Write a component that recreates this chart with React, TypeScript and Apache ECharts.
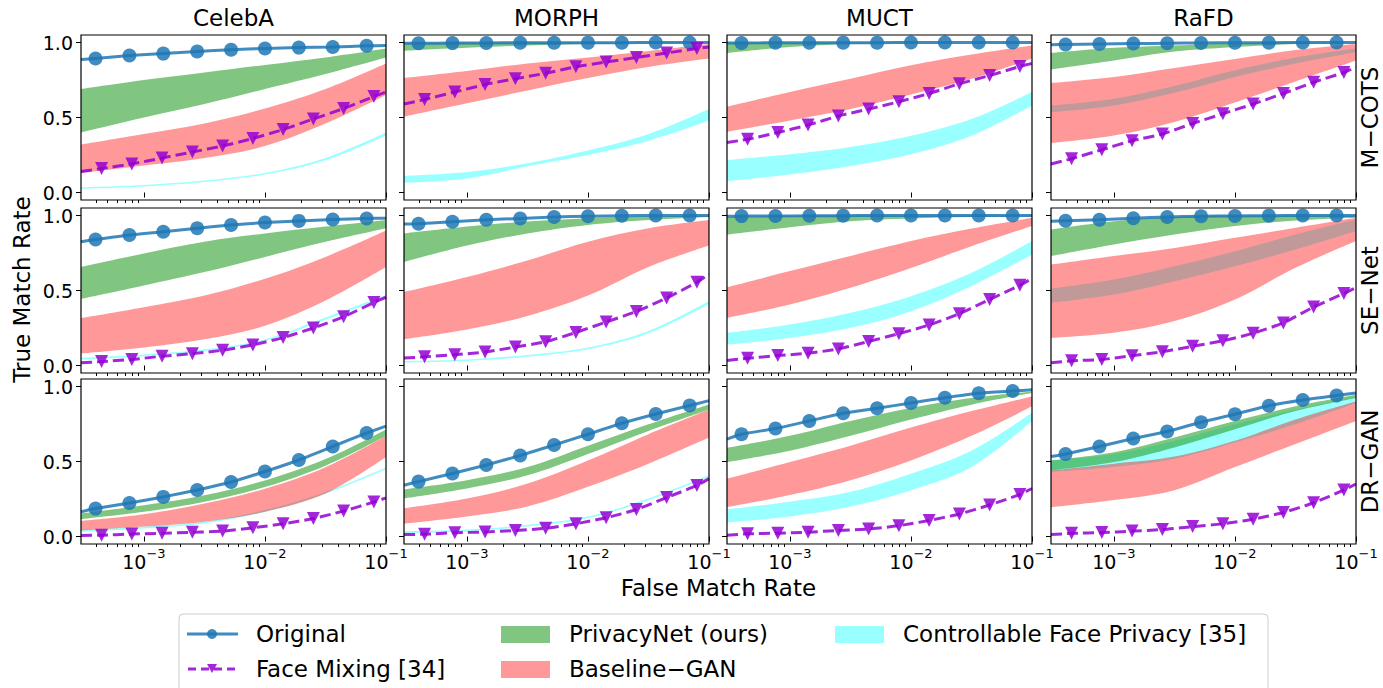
import React, { useEffect, useRef } from 'react';
import * as echarts from 'echarts';

// ---------- categories / axes ----------
const DATASETS = ['CelebA', 'MORPH', 'MUCT', 'RaFD'];
const MATCHERS = ['M−COTS', 'SE−Net', 'DR−GAN'];
const X_LABEL = 'False Match Rate';
const Y_LABEL = 'True Match Rate';
const X_TICKS = [-3, -2, -1]; // log10(FMR)
const Y_TICKS = [0, 0.5, 1.0];
const X_MIN = -3.52;
const X_MAX = -1;
const Y_MIN = -0.05;
const Y_MAX = 1.05;

// sample positions, log10(False Match Rate)
const ORIG_X = [-3.52, -3.4, -3.12, -2.84, -2.56, -2.28, -2.0, -1.72, -1.44, -1.16, -1.0];
const FM_X = [-3.52, -3.35, -3.1, -2.85, -2.6, -2.35, -2.1, -1.85, -1.6, -1.35, -1.1, -1.0];
const BAND_X = [-3.52, -3.0, -2.5, -2.0, -1.5, -1.0];

// ---------- M-COTS row (CelebA, MORPH, MUCT, RaFD) ----------
const ORIGINAL_MCOTS = [
  [0.886, 0.893, 0.913, 0.926, 0.94, 0.952, 0.96, 0.966, 0.97, 0.978, 0.98],
  [0.995, 0.995, 0.996, 0.997, 0.998, 0.998, 0.999, 0.999, 1, 1, 1],
  [0.997, 0.997, 0.998, 0.998, 0.999, 0.999, 1, 1, 1, 1, 1],
  [0.985, 0.987, 0.99, 0.993, 0.995, 0.997, 0.998, 0.999, 1, 1, 1],
];
const FACEMIX_MCOTS = [
  [0.14, 0.16, 0.19, 0.23, 0.27, 0.31, 0.36, 0.42, 0.49, 0.56, 0.64, 0.67],
  [0.59, 0.62, 0.67, 0.72, 0.758, 0.795, 0.838, 0.87, 0.9, 0.93, 0.96, 0.97],
  [0.333, 0.355, 0.4, 0.45, 0.51, 0.556, 0.605, 0.66, 0.725, 0.78, 0.84, 0.86],
  [0.19, 0.225, 0.285, 0.345, 0.39, 0.46, 0.525, 0.59, 0.66, 0.735, 0.8, 0.837],
];
const PRIVNET_LO_MCOTS = [
  [0.4, 0.5, 0.59, 0.69, 0.79, 0.9],
  [0.945, 0.965, 0.98, 0.99, 0.995, 0.998],
  [0.93, 0.97, 0.99, 0.997, 1, 1],
  [0.82, 0.88, 0.94, 0.97, 0.99, 1],
];
const PRIVNET_HI_MCOTS = [
  [0.69, 0.75, 0.8, 0.85, 0.9, 0.96],
  [0.995, 0.998, 1, 1, 1, 1],
  [0.997, 1, 1, 1, 1, 1],
  [0.93, 0.965, 0.98, 0.995, 1, 1],
];
const BASEGAN_LO_MCOTS = [
  [0.13, 0.18, 0.23, 0.31, 0.46, 0.65],
  [0.506, 0.595, 0.68, 0.763, 0.837, 0.893],
  [0.405, 0.48, 0.557, 0.653, 0.758, 0.893],
  [0.33, 0.38, 0.47, 0.6, 0.74, 0.88],
];
const BASEGAN_HI_MCOTS = [
  [0.32, 0.39, 0.46, 0.56, 0.69, 0.86],
  [0.763, 0.81, 0.86, 0.9, 0.944, 0.99],
  [0.573, 0.67, 0.758, 0.848, 0.92, 0.98],
  [0.73, 0.77, 0.83, 0.89, 0.95, 0.99],
];
const CFP_LO_MCOTS = [
  [0.025, 0.04, 0.07, 0.12, 0.215, 0.38],
  [0.065, 0.094, 0.175, 0.25, 0.345, 0.48],
  [0.076, 0.12, 0.177, 0.255, 0.378, 0.58],
  [0.535, 0.58, 0.665, 0.77, 0.86, 0.935],
];
const CFP_HI_MCOTS = [
  [0.035, 0.05, 0.08, 0.13, 0.23, 0.4],
  [0.11, 0.136, 0.195, 0.28, 0.39, 0.557],
  [0.215, 0.255, 0.304, 0.378, 0.49, 0.67],
  [0.58, 0.625, 0.71, 0.815, 0.9, 0.96],
];

// ---------- SE-Net row ----------
const ORIGINAL_SENET = [
  [0.825, 0.84, 0.87, 0.892, 0.915, 0.937, 0.953, 0.964, 0.973, 0.98, 0.982],
  [0.944, 0.945, 0.958, 0.972, 0.98, 0.99, 0.995, 0.998, 1, 1, 1],
  [0.995, 0.996, 0.997, 0.998, 0.999, 1, 1, 1, 1, 1, 1],
  [0.962, 0.965, 0.972, 0.982, 0.99, 0.995, 0.997, 0.999, 1, 1, 1],
];
const FACEMIX_SENET = [
  [0.018, 0.026, 0.04, 0.062, 0.079, 0.102, 0.137, 0.186, 0.25, 0.325, 0.42, 0.455],
  [0.05, 0.058, 0.072, 0.09, 0.123, 0.158, 0.22, 0.29, 0.36, 0.45, 0.555, 0.61],
  [0.033, 0.048, 0.066, 0.082, 0.11, 0.16, 0.212, 0.27, 0.345, 0.44, 0.535, 0.58],
  [0.018, 0.031, 0.04, 0.065, 0.092, 0.128, 0.165, 0.215, 0.284, 0.39, 0.48, 0.52],
];
const PRIVNET_LO_SENET = [
  [0.444, 0.534, 0.623, 0.724, 0.825, 0.915],
  [0.69, 0.8, 0.88, 0.937, 0.97, 0.99],
  [0.873, 0.922, 0.962, 0.98, 0.99, 0.995],
  [0.73, 0.807, 0.873, 0.93, 0.967, 0.985],
];
const PRIVNET_HI_SENET = [
  [0.657, 0.747, 0.825, 0.88, 0.926, 0.97],
  [0.88, 0.926, 0.96, 0.982, 0.993, 1],
  [0.99, 0.998, 1, 1, 1, 1],
  [0.907, 0.962, 0.99, 1, 1, 1],
];
const BASEGAN_LO_SENET = [
  [0.08, 0.12, 0.175, 0.265, 0.433, 0.657],
  [0.175, 0.24, 0.33, 0.466, 0.657, 0.8],
  [0.318, 0.407, 0.518, 0.65, 0.795, 0.93],
  [0.184, 0.218, 0.296, 0.44, 0.651, 0.83],
];
const BASEGAN_HI_SENET = [
  [0.316, 0.388, 0.466, 0.578, 0.724, 0.9],
  [0.49, 0.59, 0.7, 0.825, 0.915, 0.97],
  [0.522, 0.63, 0.73, 0.83, 0.913, 0.985],
  [0.673, 0.73, 0.784, 0.851, 0.918, 0.985],
];
const CFP_LO_SENET = [
  [0.04, 0.062, 0.096, 0.163, 0.305, 0.455],
  [0.02, 0.03, 0.058, 0.108, 0.215, 0.41],
  [0.14, 0.184, 0.251, 0.362, 0.53, 0.74],
  [0.418, 0.473, 0.562, 0.662, 0.773, 0.896],
];
const CFP_HI_SENET = [
  [0.052, 0.074, 0.108, 0.175, 0.32, 0.47],
  [0.03, 0.04, 0.07, 0.12, 0.23, 0.43],
  [0.218, 0.273, 0.351, 0.462, 0.618, 0.83],
  [0.513, 0.573, 0.662, 0.762, 0.873, 0.973],
];

// ---------- DR-GAN row ----------
const ORIGINAL_DRGAN = [
  [0.165, 0.186, 0.223, 0.264, 0.31, 0.363, 0.433, 0.51, 0.6, 0.69, 0.736],
  [0.342, 0.366, 0.42, 0.477, 0.54, 0.61, 0.682, 0.755, 0.817, 0.873, 0.906],
  [0.649, 0.682, 0.72, 0.77, 0.822, 0.855, 0.89, 0.925, 0.955, 0.97, 0.978],
  [0.533, 0.55, 0.6, 0.653, 0.7, 0.762, 0.815, 0.872, 0.91, 0.94, 0.956],
];
const FACEMIX_DRGAN = [
  [0.007, 0.009, 0.016, 0.022, 0.028, 0.036, 0.058, 0.085, 0.12, 0.17, 0.23, 0.257],
  [0.013, 0.015, 0.025, 0.03, 0.04, 0.055, 0.085, 0.125, 0.18, 0.26, 0.34, 0.386],
  [0.009, 0.018, 0.022, 0.029, 0.04, 0.05, 0.072, 0.107, 0.15, 0.21, 0.28, 0.32],
  [0.013, 0.021, 0.026, 0.036, 0.046, 0.066, 0.085, 0.115, 0.16, 0.225, 0.31, 0.35],
];
const PRIVNET_LO_DRGAN = [
  [0.116, 0.165, 0.231, 0.33, 0.472, 0.67],
  [0.254, 0.32, 0.408, 0.55, 0.704, 0.846],
  [0.496, 0.572, 0.671, 0.78, 0.879, 0.956],
  [0.44, 0.496, 0.594, 0.715, 0.836, 0.923],
];
const PRIVNET_HI_DRGAN = [
  [0.154, 0.209, 0.275, 0.374, 0.516, 0.714],
  [0.314, 0.375, 0.463, 0.605, 0.748, 0.88],
  [0.59, 0.671, 0.77, 0.857, 0.923, 0.967],
  [0.507, 0.561, 0.66, 0.77, 0.868, 0.945],
];
const BASEGAN_LO_DRGAN = [
  [0.04, 0.066, 0.099, 0.165, 0.286, 0.53],
  [0.086, 0.134, 0.2, 0.331, 0.485, 0.66],
  [0.195, 0.276, 0.375, 0.507, 0.671, 0.868],
  [0.195, 0.243, 0.309, 0.463, 0.616, 0.77],
];
const BASEGAN_HI_DRGAN = [
  [0.105, 0.149, 0.22, 0.319, 0.462, 0.67],
  [0.189, 0.254, 0.353, 0.507, 0.682, 0.846],
  [0.386, 0.496, 0.605, 0.726, 0.836, 0.934],
  [0.44, 0.485, 0.533, 0.638, 0.78, 0.9],
];
const CFP_LO_DRGAN = [
  [0.032, 0.054, 0.087, 0.164, 0.285, 0.448],
  [0.023, 0.034, 0.067, 0.122, 0.242, 0.396],
  [0.094, 0.134, 0.2, 0.309, 0.463, 0.77],
  [0.43, 0.463, 0.518, 0.627, 0.748, 0.89],
];
const CFP_HI_DRGAN = [
  [0.044, 0.066, 0.099, 0.176, 0.297, 0.46],
  [0.035, 0.046, 0.079, 0.134, 0.254, 0.408],
  [0.182, 0.232, 0.298, 0.419, 0.572, 0.825],
  [0.507, 0.55, 0.638, 0.748, 0.846, 0.934],
];

const ROWS = [
  { orig: ORIGINAL_MCOTS, fm: FACEMIX_MCOTS, pnLo: PRIVNET_LO_MCOTS, pnHi: PRIVNET_HI_MCOTS, bgLo: BASEGAN_LO_MCOTS, bgHi: BASEGAN_HI_MCOTS, cfLo: CFP_LO_MCOTS, cfHi: CFP_HI_MCOTS },
  { orig: ORIGINAL_SENET, fm: FACEMIX_SENET, pnLo: PRIVNET_LO_SENET, pnHi: PRIVNET_HI_SENET, bgLo: BASEGAN_LO_SENET, bgHi: BASEGAN_HI_SENET, cfLo: CFP_LO_SENET, cfHi: CFP_HI_SENET },
  { orig: ORIGINAL_DRGAN, fm: FACEMIX_DRGAN, pnLo: PRIVNET_LO_DRGAN, pnHi: PRIVNET_HI_DRGAN, bgLo: BASEGAN_LO_DRGAN, bgHi: BASEGAN_HI_DRGAN, cfLo: CFP_LO_DRGAN, cfHi: CFP_HI_DRGAN },
];

const NAME_ORIG = 'Original';
const NAME_FM = 'Face Mixing [34]';
const NAME_PN = 'PrivacyNet (ours)';
const NAME_BG = 'Baseline−GAN';
const NAME_CF = 'Controllable Face Privacy [35]';

// ---------- styling / layout ----------
const FONT = 'DejaVu Sans';
const C_ORIG = '#1f77b4';
const C_FM = '#9400d3';
const C_PN = 'rgba(44,160,44,0.6)';
const C_BG = 'rgba(255,0,0,0.4)';
const C_CF = 'rgba(0,255,255,0.4)';
const LEFTS = [81, 404, 727, 1051];
const TOPS = [35, 208, 379];
const PW = 305;
const PH = 165;

const MINOR_TICKS: number[] = [];
for (let e = -4; e <= -2; e++) {
  for (let k = 2; k <= 9; k++) {
    const v = Math.log10(k) + e;
    if (v > X_MIN && v < X_MAX) MINOR_TICKS.push(v);
  }
}

function buildOption() {
  const grids: any[] = [];
  const xAxes: any[] = [];
  const xMinorAxes: any[] = [];
  const yAxes: any[] = [];
  const series: any[] = [];
  const tickStyle = { color: '#000', width: 1 };

  for (let r = 0; r < 3; r++) {
    for (let c = 0; c < 4; c++) {
      const i = r * 4 + c;
      grids.push({
        left: LEFTS[c], top: TOPS[r], width: PW, height: PH,
        show: true, borderColor: '#000', borderWidth: 1.2, backgroundColor: 'transparent', z: 20,
      });
      xAxes.push({
        type: 'value', gridIndex: i, min: X_MIN, max: X_MAX, position: 'bottom',
        axisLine: { show: false }, splitLine: { show: false },
        axisTick: { show: true, customValues: X_TICKS, length: 5, lineStyle: tickStyle },
        axisLabel: {
          show: r === 2, customValues: X_TICKS, margin: 3,
          formatter: (v: number) => `{b|10}{s|−${Math.round(Math.abs(v))}}`,
          rich: {
            b: { fontSize: 19, fontFamily: FONT, color: '#000', lineHeight: 24, verticalAlign: 'bottom' },
            s: { fontSize: 13, fontFamily: FONT, color: '#000', lineHeight: 14, verticalAlign: 'top' },
          },
        },
      });
      xMinorAxes.push({
        type: 'value', gridIndex: i, min: X_MIN, max: X_MAX, position: 'bottom', offset: 0,
        axisLine: { show: false }, splitLine: { show: false }, axisLabel: { show: false },
        axisTick: { show: true, customValues: MINOR_TICKS, length: 3, lineStyle: tickStyle },
      });
      yAxes.push({
        type: 'value', gridIndex: i, min: Y_MIN, max: Y_MAX,
        axisLine: { show: false }, splitLine: { show: false },
        axisTick: { show: true, customValues: Y_TICKS, length: 5, lineStyle: tickStyle },
        axisLabel: {
          show: c === 0, customValues: Y_TICKS, margin: 8,
          formatter: (v: number) => v.toFixed(1),
          fontSize: 19, fontFamily: FONT, color: '#000',
        },
      });

      const d = ROWS[r];
      // band = lower edge + (upper - lower) stacked on the y dimension.
      // Data columns are [y, x] so that the stacked dimension is y.
      const band = (name: string, lo: number[], hi: number[], color: string, key: string) => {
        const stack = `${key}_${i}`;
        series.push({
          type: 'line', name: `${name} (lower)`, xAxisIndex: i, yAxisIndex: i, stack,
          encode: { x: 1, y: 0 },
          data: BAND_X.map((x, k) => [lo[k], x]),
          symbol: 'none', smooth: 0.35, silent: true,
          lineStyle: { width: 0, opacity: 0 }, z: 2,
        });
        series.push({
          type: 'line', name, xAxisIndex: i, yAxisIndex: i, stack,
          encode: { x: 1, y: 0 },
          data: BAND_X.map((x, k) => [hi[k] - lo[k], x]),
          symbol: 'none', smooth: 0.35, silent: true,
          lineStyle: { width: 0, opacity: 0 },
          areaStyle: { color, opacity: 1 }, z: 2,
        });
      };
      band(NAME_CF, d.cfLo[c], d.cfHi[c], C_CF, 'cf');
      band(NAME_BG, d.bgLo[c], d.bgHi[c], C_BG, 'bg');
      band(NAME_PN, d.pnLo[c], d.pnHi[c], C_PN, 'pn');

      const ov = d.orig[c];
      series.push({
        type: 'line', name: NAME_ORIG, xAxisIndex: i, yAxisIndex: i, z: 3,
        data: ORIG_X.map((x, k) => ({
          value: [x, ov[k]],
          symbol: k === 0 || k === ORIG_X.length - 1 ? 'none' : 'circle',
        })),
        symbolSize: 14, smooth: 0.2, silent: true,
        itemStyle: { color: C_ORIG, opacity: 0.85 },
        lineStyle: { color: C_ORIG, width: 3, opacity: 0.85 },
      });
      const fv = d.fm[c];
      series.push({
        type: 'line', name: NAME_FM, xAxisIndex: i, yAxisIndex: i, z: 4,
        data: FM_X.map((x, k) => ({
          value: [x, fv[k]],
          symbol: k === 0 || k === FM_X.length - 1 ? 'none' : 'triangle',
        })),
        symbolSize: 13, symbolRotate: 180, smooth: 0.2, silent: true,
        itemStyle: { color: C_FM, opacity: 0.85 },
        lineStyle: { color: C_FM, width: 3, type: [11, 5], opacity: 0.85 },
      });
    }
  }

  const txt = (text: string, x: number, y: number, size: number, rotation = 0, align = 'center') => ({
    type: 'text', x, y, rotation, z: 30,
    style: {
      text, font: `${size}px "${FONT}"`, fill: '#000',
      textAlign: align, textVerticalAlign: 'middle', align, verticalAlign: 'middle',
    },
  });

  const graphic: any[] = [];
  DATASETS.forEach((t, c) => graphic.push(txt(t, LEFTS[c] + PW / 2, 18, 23)));
  MATCHERS.forEach((t, r) => graphic.push(txt(t, 1370, TOPS[r] + PH / 2, 23, Math.PI / 2)));
  graphic.push(txt(X_LABEL, (LEFTS[0] + LEFTS[3] + PW) / 2, 588, 23));
  graphic.push(txt(Y_LABEL, 22, (TOPS[0] + TOPS[2] + PH) / 2, 23, Math.PI / 2));

  // legend
  graphic.push({
    type: 'rect', z: 30,
    shape: { x: 179, y: 614, width: 1089, height: 90, r: 4 },
    style: { fill: 'rgba(255,255,255,0.8)', stroke: '#cccccc', lineWidth: 1 },
  });
  graphic.push({ type: 'line', z: 31, shape: { x1: 187, y1: 634, x2: 238, y2: 634 }, style: { stroke: C_ORIG, lineWidth: 3, opacity: 0.85 } });
  graphic.push({ type: 'circle', z: 32, shape: { cx: 212, cy: 634, r: 5 }, style: { fill: C_ORIG, opacity: 0.85 } });
  graphic.push({ type: 'line', z: 31, shape: { x1: 188, y1: 669, x2: 237, y2: 669 }, style: { stroke: C_FM, lineWidth: 3, lineDash: [8, 5], opacity: 0.85 } });
  graphic.push({ type: 'polygon', z: 32, shape: { points: [[207, 664], [217, 664], [212, 673]] }, style: { fill: C_FM, opacity: 0.85 } });
  graphic.push(txt(NAME_ORIG, 256, 634, 23, 0, 'left'));
  graphic.push(txt(NAME_FM, 256, 669, 23, 0, 'left'));
  graphic.push({ type: 'rect', z: 31, shape: { x: 501, y: 626, width: 49, height: 17 }, style: { fill: C_PN } });
  graphic.push({ type: 'rect', z: 31, shape: { x: 501, y: 661, width: 49, height: 17 }, style: { fill: C_BG } });
  graphic.push(txt(NAME_PN, 569, 634, 23, 0, 'left'));
  graphic.push(txt(NAME_BG, 569, 669, 23, 0, 'left'));
  graphic.push({ type: 'rect', z: 31, shape: { x: 835, y: 626, width: 49, height: 17 }, style: { fill: C_CF } });
  graphic.push(txt(NAME_CF, 903, 634, 23, 0, 'left'));

  return {
    animation: false,
    backgroundColor: '#ffffff',
    grid: grids,
    xAxis: [...xAxes, ...xMinorAxes],
    yAxis: yAxes,
    series,
    graphic,
  };
}

export default function App() {
  const ref = useRef<HTMLDivElement>(null);
  useEffect(() => {
    if (!ref.current) return;
    const chart = echarts.init(ref.current, undefined, { renderer: 'svg' });
    chart.setOption(buildOption() as any);
    return () => chart.dispose();
  }, []);
  return (
    <div
      ref={ref}
      style={{ position: 'fixed', left: 0, top: 0, width: 1383, height: 688, background: '#fff' }}
    />
  );
}
